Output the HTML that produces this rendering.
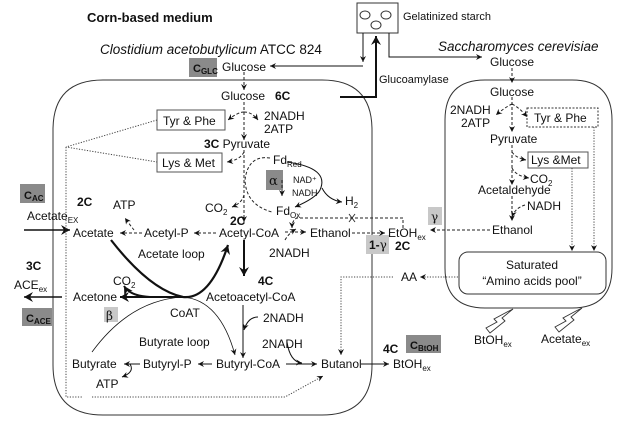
<!DOCTYPE html>
<html><head><meta charset="utf-8"><style>
html,body{margin:0;padding:0;background:#fff;}
svg{display:block;font-family:"Liberation Sans",sans-serif;}
text{font-size:12px;fill:#111;}
.b{font-weight:bold;}
.s{font-size:8px;}
</style></head><body>
<svg width="629" height="425" viewBox="0 0 629 425" xmlns="http://www.w3.org/2000/svg">
<defs>
<marker id="a" markerWidth="7" markerHeight="7" refX="6" refY="3.5" orient="auto" markerUnits="userSpaceOnUse"><path d="M0,0.5 L6,3.5 L0,6.5 L2,3.5z" fill="#111"/></marker>
<marker id="A" markerWidth="10" markerHeight="10" refX="9" refY="5" orient="auto" markerUnits="userSpaceOnUse"><path d="M0,0 L9,5 L0,10 L3,5z" fill="#111"/></marker>
</defs>
<g fill="none" stroke="#333" stroke-width="1">
<path d="M103,80 H322 Q372,80 372,130 V365 Q372,415 322,415 H103 Q53,415 53,365 V130 Q53,80 103,80z"/>
<path d="M485,80 H572 Q612,80 612,120 V268 Q612,308 572,308 H485 Q445,308 445,268 V120 Q445,80 485,80z"/>
<rect x="459" y="252" width="147" height="42" rx="9"/>
<rect x="357" y="3" width="41" height="30"/>
<ellipse cx="365" cy="15" rx="5" ry="4"/><ellipse cx="386" cy="15" rx="5" ry="4"/><ellipse cx="376" cy="25" rx="5" ry="4"/>
<rect x="157" y="110" width="68" height="20" stroke="#555"/>
<rect x="157" y="153" width="65" height="19" stroke="#555"/>
<rect x="527" y="108" width="71" height="19" stroke-dasharray="2,1.5"/>
<rect x="528" y="152" width="60" height="16" stroke="#555"/>
</g>
<g stroke="none">
<rect x="189" y="58" width="28" height="19" fill="#8a8a8a"/>
<rect x="20" y="184" width="25" height="19" fill="#8a8a8a"/>
<rect x="22" y="308" width="30" height="18" fill="#8a8a8a"/>
<rect x="406" y="335" width="35" height="18" fill="#8a8a8a"/>
<rect x="266" y="170" width="17" height="20" fill="#8a8a8a"/>
<rect x="104" y="307" width="14" height="15" fill="#c8c8c8"/>
<rect x="428" y="207" width="14" height="18" fill="#c8c8c8"/>
<rect x="366" y="235" width="23" height="19" fill="#c8c8c8"/>
</g>
<g fill="none" stroke="#111" stroke-width="1">
<path d="M363,33 V62" marker-end="url(#a)"/>
<path d="M363,66 H270" marker-end="url(#a)"/>
<path d="M389,33 V57 H482" marker-end="url(#a)"/>
<path d="M24,230 H70" stroke-width="1.6" marker-end="url(#A)"/>
<path d="M62,297 H24" stroke-width="1.6" marker-end="url(#A)"/>
<path d="M244,240 V276" stroke-width="2" marker-end="url(#A)"/>
<path d="M183,297 H120" stroke-width="2" marker-end="url(#A)"/>
<path d="M150,297 Q130,296 124,286" stroke-width="2" marker-end="url(#A)"/>
<path d="M111,240 Q150,290 183,297 Q210,300 228,245" stroke-width="2.2" marker-end="url(#A)"/>
<path d="M92,352 Q130,300 183,297 Q220,300 235,355" stroke-width="0.8" marker-end="url(#a)"/>
<path d="M243,305 V358" marker-end="url(#a)"/>
<path d="M258,317 Q248,317 244,330" marker-end="url(#a)"/>
<path d="M212,364 H198" marker-end="url(#a)"/>
<path d="M140,364 H124" marker-end="url(#a)"/>
<path d="M130,364 Q135,372 122,377" marker-end="url(#a)"/>
<path d="M286,364 H317" marker-end="url(#a)"/>
<path d="M287,342 Q290,362 302,363" marker-end="url(#a)"/>
<path d="M361,364 H389" marker-end="url(#a)"/>
<path d="M287,162 Q330,168 320,190 Q316,198 295,207" marker-end="url(#a)"/>
<path d="M322,188 Q328,200 342,202" marker-end="url(#a)"/>
</g>
<g fill="none" stroke="#111" stroke-width="2">
<path d="M340,97 H376 V36" marker-end="url(#A)"/>
</g>
<g fill="none" stroke="#222" stroke-width="1" stroke-dasharray="3,2">
<path d="M244,72 V90" marker-end="url(#a)"/>
<path d="M244,102 V140" marker-end="url(#a)"/>
<path d="M244,112 Q238,112 228,120" marker-end="url(#a)"/>
<path d="M244,112 Q252,112 258,120" marker-end="url(#a)"/>
<path d="M244,150 V222" marker-end="url(#a)"/>
<path d="M244,152 Q240,160 227,162" marker-end="url(#a)"/>
<path d="M244,195 Q242,203 232,207" marker-end="url(#a)"/>
<path d="M270,158 Q248,155 245,180 Q246,205 272,212"/>
<path d="M282,180 L282,196" marker-end="url(#a)"/>
<path d="M216,233 H194" marker-end="url(#a)"/>
<path d="M142,233 H120" marker-end="url(#a)"/>
<path d="M134,230 Q130,225 125,218" marker-end="url(#a)"/>
<path d="M285,232 H306" marker-end="url(#a)"/>
<path d="M285,240 Q289,233 296,229" marker-end="url(#a)"/>
<path d="M403,228 V218 H297 Q292,220 292,228" marker-end="url(#a)"/>
<path d="M352,233 H385" marker-end="url(#a)"/>
<path d="M490,230 H430" marker-end="url(#a)"/>
<path d="M512,68 V83" marker-end="url(#a)"/>
<path d="M512,97 V132" marker-end="url(#a)"/>
<path d="M512,104 Q504,108 496,115" marker-end="url(#a)"/>
<path d="M512,104 Q520,108 527,117" marker-end="url(#a)"/>
<path d="M512,145 V185" marker-end="url(#a)"/>
<path d="M512,152 Q516,158 526,160" marker-end="url(#a)"/>
<path d="M512,168 Q516,176 529,178" marker-end="url(#a)"/>
<path d="M512,196 V221" marker-end="url(#a)"/>
<path d="M525,205 Q515,208 512,217" marker-end="url(#a)"/>
</g>
<g stroke="#333" stroke-width="1"><path d="M349,214 L355,222 M355,214 L349,222"/></g>
<g fill="none" stroke="#444" stroke-width="1" stroke-dasharray="1.2,1.5">
<path d="M157,120 L66,147 L157,162"/>
<path d="M66,147 V397 H82 M92,397 H285 L323,376" marker-end="url(#a)"/>
<path d="M458,277 H420" marker-end="url(#a)"/>
<path d="M393,277 H341 V355" marker-end="url(#a)"/>
<path d="M572,168 V251" marker-end="url(#a)"/>
<path d="M594,127 V251" marker-end="url(#a)"/>
</g>
<g fill="none" stroke="#333" stroke-width="0.9">
<path d="M513,309 L502,318 L505,321 L490,333 L486,328 L497,322 L494,319 L507,312z"/>
<path d="M582,308 L571,317 L574,320 L559,332 L555,327 L566,321 L563,318 L576,311z"/>
</g>
<text x="87" y="22" class="b" style="font-size:13px">Corn-based medium</text>
<text x="100" y="54" style="font-size:13.5px"><tspan font-style="italic">Clostidium acetobutylicum</tspan> ATCC 824</text>
<text x="438" y="51" font-style="italic" style="font-size:13.5px">Saccharomyces cerevisiae</text>
<text x="403" y="20" style="font-size:11px">Gelatinized starch</text>
<text x="379" y="83" style="font-size:11px">Glucoamylase</text>
<text x="193" y="72" class="b" style="font-size:11px">C<tspan class="s" dy="2">GLC</tspan></text>
<text x="222" y="71">Glucose</text>
<text x="221" y="100">Glucose</text><text x="275" y="100" class="b">6C</text>
<text x="264" y="120">2NADH</text><text x="264" y="133">2ATP</text>
<text x="163" y="125">Tyr &amp; Phe</text>
<text x="204" y="148"><tspan class="b">3C</tspan> Pyruvate</text>
<text x="162" y="167">Lys &amp; Met</text>
<text x="273" y="164">Fd<tspan class="s" dy="3">Red</tspan></text>
<text x="269" y="185" style="font-size:13px;font-family:'DejaVu Serif',serif">α</text>
<text x="293" y="183" style="font-size:9px">NAD⁺</text>
<text x="292" y="196" style="font-size:9px">NADH</text>
<text x="345" y="205">H<tspan class="s" dy="3">2</tspan></text>
<text x="276" y="215">Fd<tspan class="s" dy="3">Ox</tspan></text>
<text x="205" y="212">CO<tspan class="s" dy="3">2</tspan></text>
<text x="230" y="225" class="b">2C</text>
<text x="219" y="237">Acetyl-CoA</text>
<text x="310" y="237">Ethanol</text>
<text x="269" y="257">2NADH</text>
<text x="388" y="237">EtOH<tspan class="s" dy="3">ex</tspan></text>
<text x="395" y="250" class="b">2C</text>
<text x="431" y="221" style="font-family:'DejaVu Serif',serif">γ</text>
<text x="369" y="249" class="b">1-<tspan style="font-family:'DejaVu Serif',serif;font-weight:normal">γ</tspan></text>
<text x="24" y="199" class="b" style="font-size:11px">C<tspan class="s" dy="2">AC</tspan></text>
<text x="77" y="206" class="b">2C</text>
<text x="27" y="220">Acetate<tspan class="s" dy="3">EX</tspan></text>
<text x="113" y="209">ATP</text>
<text x="73" y="237">Acetate</text>
<text x="144" y="237">Acetyl-P</text>
<text x="138" y="258">Acetate loop</text>
<text x="26" y="270" class="b">3C</text>
<text x="14" y="289">ACE<tspan class="s" dy="3">ex</tspan></text>
<text x="26" y="322" class="b" style="font-size:11px">C<tspan class="s" dy="2">ACE</tspan></text>
<text x="113" y="285">CO<tspan class="s" dy="3">2</tspan></text>
<text x="73" y="301">Acetone</text>
<text x="106" y="320" style="font-family:'DejaVu Serif',serif">β</text>
<text x="170" y="317">CoAT</text>
<text x="206" y="301">Acetoacetyl-CoA</text>
<text x="258" y="285" class="b">4C</text>
<text x="263" y="322">2NADH</text>
<text x="139" y="346">Butyrate loop</text>
<text x="262" y="348">2NADH</text>
<text x="72" y="368">Butyrate</text>
<text x="143" y="368">Butyryl-P</text>
<text x="216" y="368">Butyryl-CoA</text>
<text x="96" y="388">ATP</text>
<text x="321" y="368">Butanol</text>
<text x="393" y="368">BtOH<tspan class="s" dy="3">ex</tspan></text>
<text x="383" y="353" class="b">4C</text>
<text x="410" y="349" class="b" style="font-size:11px">C<tspan class="s" dy="2">BtOH</tspan></text>
<text x="401" y="281">AA</text>
<text x="490" y="66">Glucose</text>
<text x="490" y="96">Glucose</text>
<text x="450" y="114">2NADH</text><text x="461" y="127">2ATP</text>
<text x="534" y="122">Tyr &amp; Phe</text>
<text x="531" y="164">Lys &amp;Met</text>
<text x="490" y="143">Pyruvate</text>
<text x="530" y="183">CO<tspan class="s" dy="3">2</tspan></text>
<text x="478" y="194">Acetaldehyde</text>
<text x="527" y="210">NADH</text>
<text x="492" y="234">Ethanol</text>
<text x="532" y="269" text-anchor="middle">Saturated</text>
<text x="532" y="285" text-anchor="middle">“Amino acids pool”</text>
<text x="474" y="344">BtOH<tspan class="s" dy="3">ex</tspan></text>
<text x="541" y="343">Acetate<tspan class="s" dy="3">ex</tspan></text>
</svg>
</body></html>
